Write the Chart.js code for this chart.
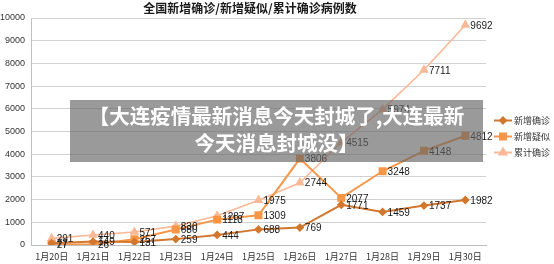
<!DOCTYPE html>
<html>
<head>
<meta charset="utf-8">
<script src="https://cdn.jsdelivr.net/npm/chart.js@4"></script>
<style>
  html, body { margin: 0; padding: 0; background: #fff; }
  #wrap { position: relative; width: 554px; height: 264px; overflow: hidden; }
  #c { position: absolute; left: 0; top: 0; }
  #title { position: absolute; left: 0; width: 500px; top: 0; text-align: center;
           font: bold 12px "Noto Sans CJK SC", sans-serif; color: #1a1a1a; line-height: 16px; }
  #banner { position: absolute; left: 70px; top: 100px; width: 413px; height: 62px;
            background: rgba(100,100,100,0.65); color: #fff; text-align: center;
            font: bold 20.5px "Noto Sans CJK SC", sans-serif; line-height: 26.5px;
            padding-top: 2px; box-sizing: border-box; white-space: nowrap; }
</style>
</head>
<body>
<div id="wrap">
  <canvas id="c" width="554" height="264"></canvas>
  <div id="title">全国新增确诊/新增疑似/累计确诊病例数</div>
  <div id="banner">【大连疫情最新消息今天封城了,大连最新<br>今天消息封城没】</div>
</div>
<script>
const categories = ["1月20日","1月21日","1月22日","1月23日","1月24日","1月25日","1月26日","1月27日","1月28日","1月29日","1月30日"];
const newConfirmed = [77, 149, 131, 259, 444, 688, 769, 1771, 1459, 1737, 1982];
const newSuspected = [27, 26, 257, 680, 1118, 1309, 3806, 2077, 3248, 4148, 4812];
const totalConfirmed = [291, 440, 571, 830, 1287, 1975, 2744, 4515, 5974, 7711, 9692];
const seriesNames = ["新增确诊", "新增疑似", "累计确诊"];
const yMin = 0, yMax = 10000, yStep = 1000;

const colors = ["#D2772E", "#F79646", "#FAB996"];

const labelPlugin = {
  id: 'pointLabels',
  afterDatasetsDraw(chart) {
    const ctx = chart.ctx;
    ctx.save();
    ctx.font = '10px "Liberation Sans", Arial, sans-serif';
    ctx.fillStyle = '#1a1a1a';
    ctx.textAlign = 'left';
    ctx.textBaseline = 'middle';
    chart.data.datasets.forEach((ds, i) => {
      const meta = chart.getDatasetMeta(i);
      meta.data.forEach((pt, j) => {
        ctx.fillText(String(ds.data[j]), pt.x + 5, pt.y + 1);
      });
    });
    ctx.restore();
  }
};

const legendPlugin = {
  id: 'sideLegend',
  afterDraw(chart) {
    const ctx = chart.ctx;
    const x0 = chart.chartArea.right + 8;
    const yc = (chart.chartArea.top + chart.chartArea.bottom) / 2 + 5;
    ctx.save();
    chart.data.datasets.forEach((ds, i) => {
      const y = yc + (i - 1) * 16;
      ctx.strokeStyle = ds.borderColor;
      ctx.lineWidth = 2;
      ctx.beginPath();
      ctx.moveTo(x0, y);
      ctx.lineTo(x0 + 18, y);
      ctx.stroke();
      ctx.fillStyle = ds.pointBackgroundColor;
      ctx.strokeStyle = ds.pointBorderColor;
      Chart.helpers.drawPoint(ctx, {pointStyle: ds.pointStyle, radius: ds.pointRadius, borderWidth: 1, rotation: 0}, x0 + 9, y);
      ctx.fillStyle = '#333';
      ctx.font = '9px "Noto Sans CJK SC", sans-serif';
      ctx.textAlign = 'left';
      ctx.textBaseline = 'middle';
      ctx.fillText(ds.label, x0 + 20, y);
    });
    ctx.restore();
  }
};

function mk(label, data, color, style, radius, width) {
  return {
    label, data,
    borderColor: color, backgroundColor: color,
    pointBackgroundColor: color, pointBorderColor: color,
    pointStyle: style, pointRadius: radius, pointHoverRadius: radius,
    borderWidth: width, tension: 0, fill: false
  };
}

new Chart(document.getElementById('c'), {
  type: 'line',
  data: {
    labels: categories,
    datasets: [
      mk(seriesNames[0], newConfirmed, colors[0], 'rectRot', 3, 2),
      mk(seriesNames[1], newSuspected, colors[1], 'rect', 4.2, 2),
      mk(seriesNames[2], totalConfirmed, colors[2], 'triangle', 4, 1.6)
    ]
  },
  options: {
    responsive: false,
    animation: false,
    layout: { padding: { top: 18, right: 68, bottom: 2, left: 0 } },
    plugins: { legend: { display: false }, title: { display: false }, tooltip: { enabled: false } },
    scales: {
      x: {
        offset: true,
        afterFit(scale) { scale.height = 17; },
        grid: { display: false, drawTicks: false },
        border: { color: '#bfbfbf', width: 1 },
        ticks: { padding: 6, color: '#333', font: { size: 9, family: '"Noto Sans CJK SC", sans-serif' }, maxRotation: 0, autoSkip: false }
      },
      y: {
        min: yMin, max: yMax,
        afterFit(scale) { scale.width = 31; },
        grid: { color: '#d0d0d0', lineWidth: 1, drawTicks: false },
        border: { color: '#bfbfbf', width: 1 },
        ticks: { stepSize: yStep, padding: 6, color: '#333', font: { size: 9, family: '"Liberation Sans", Arial, sans-serif' },
                 callback: (v) => String(v) }
      }
    }
  },
  plugins: [labelPlugin, legendPlugin]
});
</script>
</body>
</html>
